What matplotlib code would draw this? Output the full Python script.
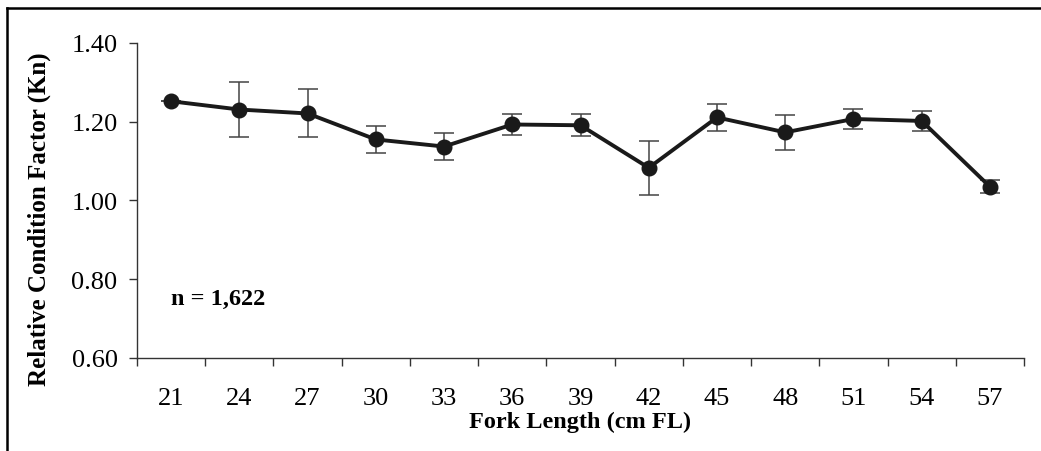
import numpy as np
import matplotlib
matplotlib.use('Agg')
from matplotlib import pyplot as plt
from matplotlib.lines import Line2D

lengths = ['21', '24', '27', '30', '33', '36', '39', '42', '45', '48', '51', '54', '57']
kn = [1.252, 1.231, 1.221, 1.155, 1.137, 1.193, 1.191, 1.083, 1.211, 1.173, 1.207, 1.202, 1.035]
kn_err = [0.0, 0.069, 0.061, 0.034, 0.034, 0.026, 0.028, 0.068, 0.034, 0.045, 0.026, 0.025, 0.016]
yticks = [0.60, 0.80, 1.00, 1.20, 1.40]

plt.rcParams['font.family'] = ['Liberation Serif', 'DejaVu Serif']

fig = plt.figure(figsize=(10.41, 4.52), dpi=100)
ax = fig.add_axes([0.1316, 0.2058, 0.8521, 0.6969])

x = np.arange(len(lengths))
ax.errorbar(x, kn, yerr=kn_err, fmt='none', ecolor='#444444', elinewidth=1.1,
            capsize=7, capthick=1.1, zorder=2)
ax.plot(x, kn, color='#1a1a1a', lw=2.8, marker='o', ms=10.5, zorder=3)

ax.set_xlim(-0.5, len(lengths) - 0.5)
ax.set_ylim(0.6, 1.4)
ax.set_yticks(yticks)
ax.set_yticklabels(['%.2f' % v for v in yticks])
ax.set_xticks(x)
ax.set_xticklabels(lengths)
ax.set_xticks(np.arange(-0.5, len(lengths)), minor=True)
ax.tick_params(axis='x', which='major', length=0, pad=21, labelsize=19)
ax.tick_params(axis='x', which='minor', length=6, width=1, color='#333333')
ax.tick_params(axis='y', length=6, width=1, color='#333333', pad=8, labelsize=19)

for s in ['top', 'right']:
    ax.spines[s].set_visible(False)
for s in ['left', 'bottom']:
    ax.spines[s].set_color('#333333')
    ax.spines[s].set_linewidth(1)

ax.set_ylabel('Relative Condition Factor (Kn)', fontsize=18, fontweight='bold')
ax.yaxis.set_label_coords(-0.097, 0.443)
ax.set_xlabel('Fork Length (cm FL)', fontsize=17.5, fontweight='bold', labelpad=1)
ax.text(0.0, 0.75, 'n = 1,622', fontsize=17.5, fontweight='bold', va='center', ha='left')

# frame around the figure (only left and top edges show)
fig.add_artist(Line2D([7 / 1041, 7 / 1041], [0, 1 - 9 / 452], transform=fig.transFigure,
                      color='black', lw=1.8))
fig.add_artist(Line2D([7 / 1041, 1], [1 - 9 / 452, 1 - 9 / 452], transform=fig.transFigure,
                      color='black', lw=1.8))

fig.savefig('out.png', dpi=100)
